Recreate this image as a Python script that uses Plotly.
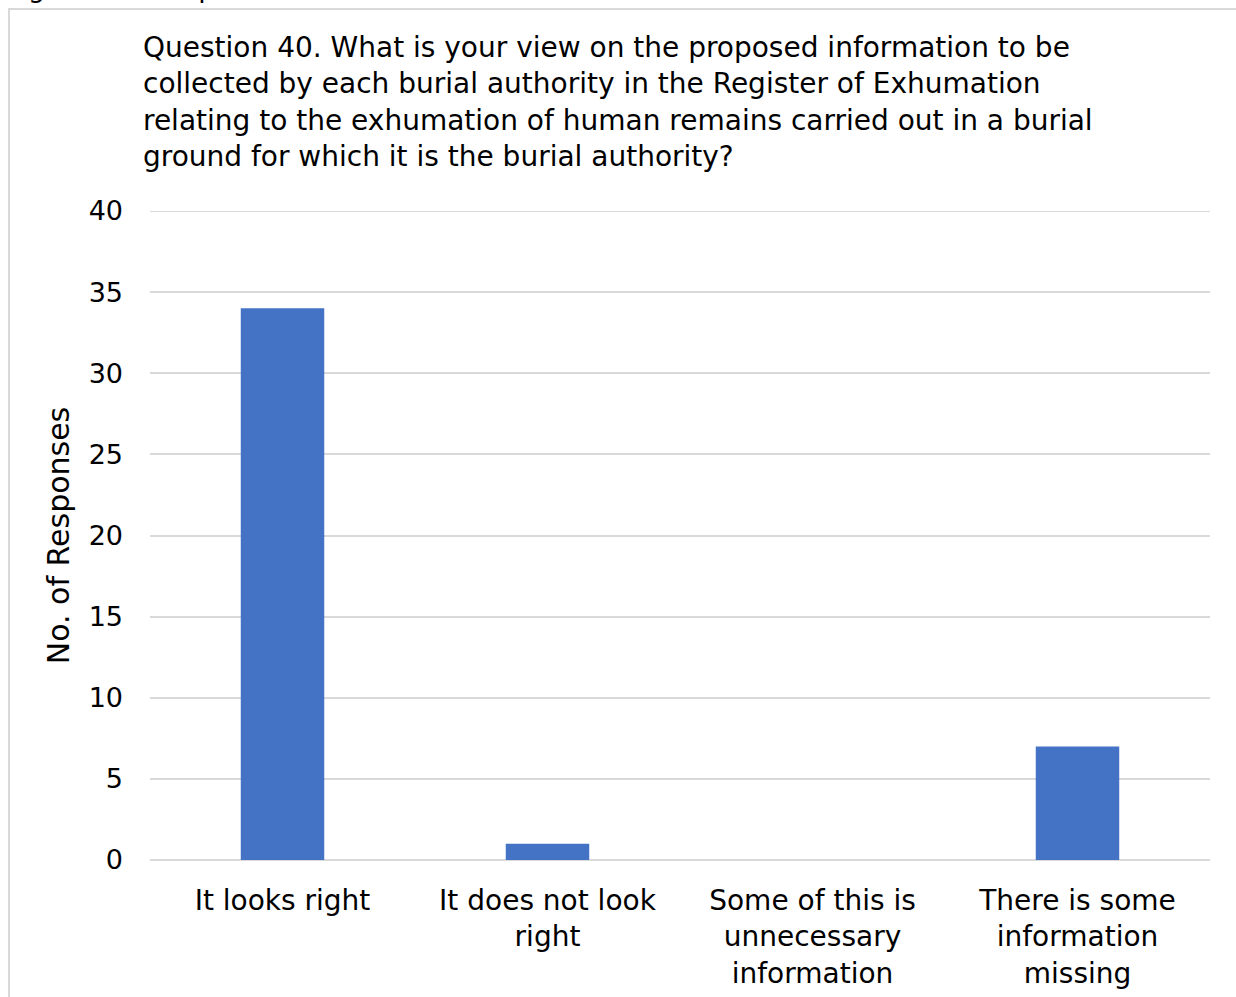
import plotly.graph_objects as go

categories = [
    "It looks right",
    "It does not look<br>right",
    "Some of this is<br>unnecessary<br>information",
    "There is some<br>information<br>missing",
]
responses = [34, 1, 0, 7]
y_ticks = [0, 5, 10, 15, 20, 25, 30, 35, 40]

title_text = (
    "Question 40. What is your view on the proposed information to be<br>"
    "collected by each burial authority in the Register of Exhumation<br>"
    "relating to the exhumation of human remains carried out in a burial<br>"
    "ground for which it is the burial authority?"
)

W, H = 1236, 997
L, R, T, B = 150, 26, 211, 137
pw, ph = W - L - R, H - T - B


def px_x(x):
    return (x - L) / pw


def px_y(y):
    return (H - B - y) / ph


font = "DejaVu Sans, Liberation Sans, Arial, sans-serif"
grid = "#d9d9d9"

fig = go.Figure(
    go.Bar(
        x=categories,
        y=responses,
        marker=dict(color="#4472c4", line=dict(width=0)),
        width=0.315,
    )
)

fig.update_layout(
    width=W,
    height=H,
    margin=dict(l=L, r=R, t=T, b=B, autoexpand=False),
    paper_bgcolor="white",
    plot_bgcolor="white",
    showlegend=False,
    font=dict(family=font, color="#000000"),
    xaxis=dict(
        automargin=False,
        showgrid=False,
        showline=False,
        ticks="",
        tickfont=dict(size=28, color="#000000"),
        ticklabelstandoff=21,
    ),
    yaxis=dict(
        automargin=False,
        range=[0, 40],
        tickvals=y_ticks,
        showgrid=True,
        gridcolor=grid,
        gridwidth=2,
        zeroline=True,
        zerolinecolor=grid,
        zerolinewidth=2,
        showline=False,
        ticks="",
        tickfont=dict(size=27, color="#000000"),
        ticklabelstandoff=26,
        title=dict(text="No. of Responses", font=dict(size=30, color="#000000"), standoff=10),
    ),
    annotations=[
        dict(
            text=title_text,
            xref="paper", yref="paper",
            x=px_x(141), y=px_y(29),
            xanchor="left", yanchor="top",
            align="left",
            showarrow=False,
            font=dict(size=28, color="#000000"),
        ),
        dict(
            text="Figure 40: Responses to Question 40",
            xref="paper", yref="paper",
            x=px_x(5), y=px_y(-12),
            xanchor="left", yanchor="middle",
            align="left",
            showarrow=False,
            font=dict(size=27, color="#000000"),
        ),
    ],
    shapes=[
        # outer frame around the chart
        dict(
            type="rect",
            xref="paper", yref="paper",
            x0=px_x(9), x1=px_x(1250),
            y0=px_y(1010), y1=px_y(9),
            line=dict(color=grid, width=2),
            fillcolor="rgba(0,0,0,0)",
            layer="below",
        ),
        # top gridline at the axis maximum
        dict(
            type="line",
            xref="paper", yref="y",
            x0=0, x1=1, y0=y_ticks[-1], y1=y_ticks[-1],
            line=dict(color=grid, width=2),
            layer="below",
        ),
    ],
)

fig.write_html("out.html")
